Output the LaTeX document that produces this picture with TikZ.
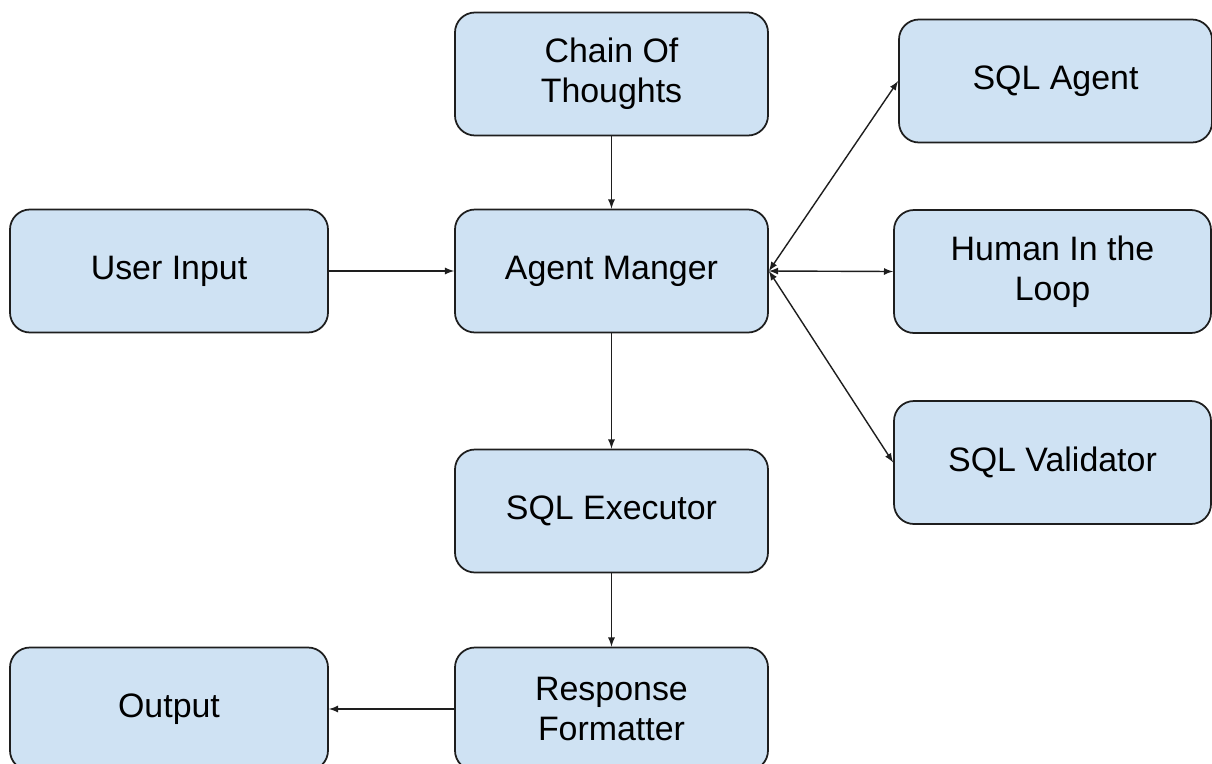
\documentclass[tikz,border=0pt]{standalone}
\usepackage{fontspec}
\setmainfont{Liberation Sans}
\usetikzlibrary{positioning}
\def\BoxColor{rgb,255:red,207;green,226;blue,243}
\def\EdgeColor{rgb,255:red,30;green,30;blue,30}

\begin{document}
\begin{tikzpicture}
\tikzstyle{block} = [rectangle, draw=\EdgeColor, fill=\BoxColor, line width=1pt, minimum width=6.26cm, minimum height=2.46cm, align=center, rounded corners=0.4cm, font=\fontsize{19.3}{23}\selectfont]
\tikzstyle{connector} = [draw=\EdgeColor, line width=0.8pt, -latex]
\tikzstyle{twoway} = [draw=\EdgeColor, line width=0.8pt, latex-latex]

\useasboundingbox (0,0) rectangle (24.24,-15.26);

\node [block] at (12.23,-1.48) (cot) {Chain Of\\Thoughts};
\node [block] at (21.11,-1.62) (sqla) {SQL Agent};
\node [block, minimum width=6.36cm] at (3.38,-5.42) (ui) {User Input};
\node [block] at (12.23,-5.42) (am) {Agent Manger};
\node [block, minimum width=6.34cm] at (21.05,-5.43) (hil) {Human In the\\Loop};
\node [block, minimum width=6.34cm] at (21.05,-9.25) (sqlv) {SQL Validator};
\node [block] at (12.23,-10.22) (sqle) {SQL Executor};
\node [block] at (12.23,-14.18) (rf) {Response\\Formatter};
\node [block, minimum width=6.36cm] at (3.38,-14.18) (out) {Output};


\path [connector] (cot) -- (am);
\path [connector] (ui) -- (am);
\path [twoway] (am.east) -- (sqla.west);
\path [twoway] (am.east) -- (hil.west);
\path [twoway] (am.east) -- (sqlv.west);
\path [connector] (am) -- (sqle);
\path [connector] (sqle) -- (rf);
\path [connector] (rf) -- (out);



\end{tikzpicture}
\end{document}
